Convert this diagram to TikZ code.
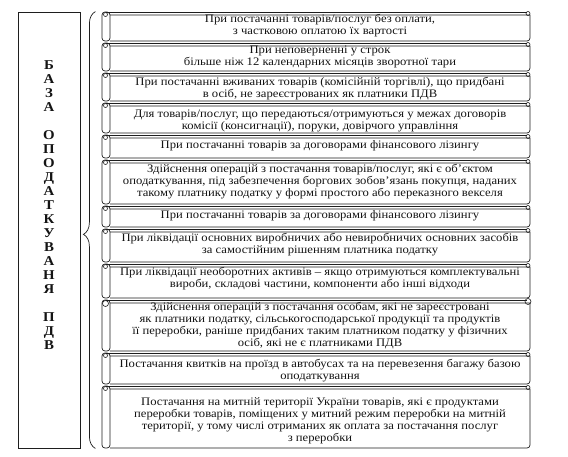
\documentclass[tikz,border=0pt]{standalone}
\usepackage{fontspec}
\setmainfont[FakeStretch=1.1]{Liberation Serif}
\usetikzlibrary{positioning, decorations.pathreplacing}
\definecolor{kontur}{HTML}{1E1E1E}
\definecolor{tekst}{HTML}{141414}

% suvij: scroll box from top #1 to bottom #2, curl radius #3
\newcommand{\suvij}[3][2]{%
	\draw[kontur, line width=0.7pt] (110,#2+3) -- (530,#2+3) -- (530,#3-3)
		to[out=-90,in=0] (527,#3) -- (110,#3);
	\draw[kontur, line width=0.7pt] (106,#2) -- (527,#2);
	\draw[kontur, line width=0.6pt] (528,#2+1.5) circle (#1);
	\draw[kontur, line width=0.7pt, rounded corners=3pt] (102,#2) rectangle (110,#3);
	\draw[kontur, line width=0.6pt] (105.5,#2+#1+0.5) circle (#1);
}

\begin{document}
\begin{tikzpicture}[x=1pt, y=-1pt,
	punkt/.style={text=tekst, align=center, inner sep=0pt,
	              font=\fontsize{11.5}{12}\selectfont}]
	\useasboundingbox (0,0) rectangle (568,456);
	\fill[white] (0,0) rectangle (568,456);

	\node[draw=kontur, line width=0.8pt, minimum width=62pt, minimum height=436pt,
	      inner sep=0pt] (ramka) at (49,230) {};
	\node[text=tekst, align=center, inner sep=0pt,
	      font=\bfseries\fontsize{13.5}{14}\selectfont] (baza) at (49,205) {%
		Б\\А\\З\\А\\[14pt]О\\П\\О\\Д\\А\\Т\\К\\У\\В\\А\\Н\\Я\\[14pt]П\\Д\\В};
	\draw[kontur, line width=0.7pt, decorate, decoration={brace, amplitude=12pt, aspect=0.49}]
		([xshift=15pt]ramka.south east) -- ([xshift=15pt]ramka.north east);

	\suvij{12}{41}
	\node[punkt] (p1) at (320,26) {При постачанні товарів/послуг без оплати,\\
		з частковою оплатою їх вартості};
	\suvij{43}{71}
	\node[punkt] (p2) at (320,56.5) {При неповерненні у строк\\
		більше ніж 12 календарних місяців зворотної тари};
	\suvij{73}{101}
	\node[punkt] (p3) at (320,88.5) {При постачанні вживаних товарів (комісійній торгівлі), що придбані\\
		в осіб, не зареєстрованих як платники ПДВ};
	\suvij{103}{133}
	\node[punkt] (p4) at (320,120.5) {Для товарів/послуг, що передаються/отримуються у межах договорів\\
		комісії (консигнації), поруки, довірчого управління};
	\suvij{135}{158}
	\node[punkt] (p5) at (320,146) {При постачанні товарів за договорами фінансового лізингу};
	\suvij{160}{204}
	\node[punkt] (p6) at (320,181.5) {Здійснення операцій з постачання товарів/послуг, які є об'єктом\\
		оподаткування, під забезпечення боргових зобов'язань покупця, наданих\\
		такому платнику податку у формі простого або переказного векселя};
	\suvij{206}{227}
	\node[punkt] (p7) at (320,216) {При постачанні товарів за договорами фінансового лізингу};
	\suvij{229}{262}
	\node[punkt] (p8) at (320,245) {При ліквідації основних виробничих або невиробничих основних засобів\\
		за самостійним рішенням платника податку};
	\suvij{264}{298}
	\node[punkt] (p9) at (320,279) {При ліквідації необоротних активів -- якщо отримуються комплектувальні\\
		вироби, складові частини, компоненти або інші відходи};
	\suvij[3]{300}{351}
	\node[punkt] (p10) at (320,326) {Здійснення операцій з постачання особам, які не зареєстровані\\
		як платники податку, сільськогосподарської продукції та продуктів\\
		її переробки, раніше придбаних таким платником податку у фізичних\\
		осіб, які не є платниками ПДВ};
	\suvij{353}{384}
	\node[punkt] (p11) at (320,370.5) {Постачання квитків на проїзд в автобусах та на перевезення багажу базою\\
		оподаткування};
	\suvij{386}{448}
	\node[punkt] (p12) at (320,420.5) {Постачання на митній території України товарів, які є продуктами\\
		переробки товарів, поміщених у митний режим переробки на митній\\
		території, у тому числі отриманих як оплата за постачання послуг\\
		з переробки};
\end{tikzpicture}
\end{document}
